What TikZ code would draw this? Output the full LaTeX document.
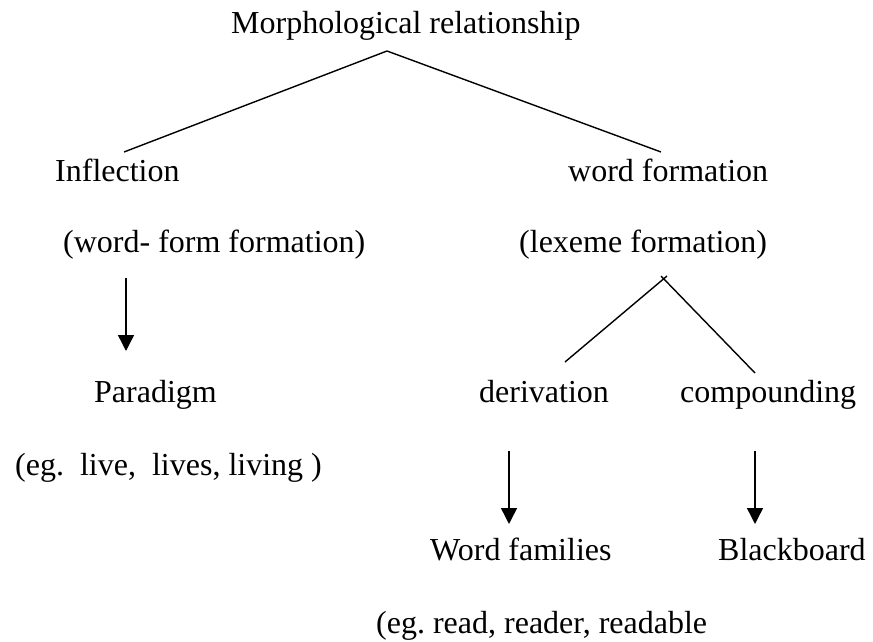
\documentclass[tikz,border=0pt]{standalone}
\usepackage{fontspec}
\setmainfont{Liberation Serif}
\usetikzlibrary{arrows.meta}
\frenchspacing
\begin{document}
\begin{tikzpicture}[x=1pt,y=1pt,
  lbl/.style={anchor=base west,inner sep=0pt,font=\fontsize{32}{38}\selectfont},
  branch/.style={line width=1.4pt},
  downarrow/.style={line width=1.4pt,-{Triangle[width=16pt,length=16pt]}}]
\useasboundingbox (0,0) rectangle (873,-642);
% texts
\node[lbl] (morph) at (231,-34) {Morphological relationship};
\node[lbl] (infl) at (55,-181) {Inflection};
\node[lbl] (wf) at (568,-181) {word formation};
\node[lbl] (wff) at (63,-252) {(word- form formation)};
\node[lbl] (lex) at (519,-252) {(lexeme formation)};
\node[lbl] (para) at (94,-402) {Paradigm};
\node[lbl] (der) at (479,-402) {derivation};
\node[lbl] (comp) at (680,-402) {compounding};
\node[lbl] (eg1) at (15,-475) {(eg.\ \ live,\ \ lives, living )};
\node[lbl] (fam) at (430,-560) {Word families};
\node[lbl] (bb) at (718,-560) {Blackboard};
\node[lbl] (eg2) at (376,-633) {(eg. read, reader, readable};
% connector end points
\coordinate (apex1) at (387,-51);
\coordinate (infltop) at (124,-152);
\coordinate (wftop) at (661,-152);
\coordinate (apex2a) at (667,-276);
\coordinate (apex2b) at (661,-276);
\coordinate (dertop) at (565,-362);
\coordinate (comptop) at (755,-373);
\coordinate (a1s) at (126,-278);
\coordinate (a1e) at (126,-351);
\coordinate (a2s) at (509,-451);
\coordinate (a2e) at (509,-524);
\coordinate (a3s) at (755,-451);
\coordinate (a3e) at (755,-524);
% branches
\draw[branch] (infltop) -- (apex1) -- (wftop);
\draw[branch] (dertop) -- (apex2a);
\draw[branch] (comptop) -- (apex2b);
% arrows
\draw[downarrow] (a1s) -- (a1e);
\draw[downarrow] (a2s) -- (a2e);
\draw[downarrow] (a3s) -- (a3e);
\end{tikzpicture}
\end{document}
